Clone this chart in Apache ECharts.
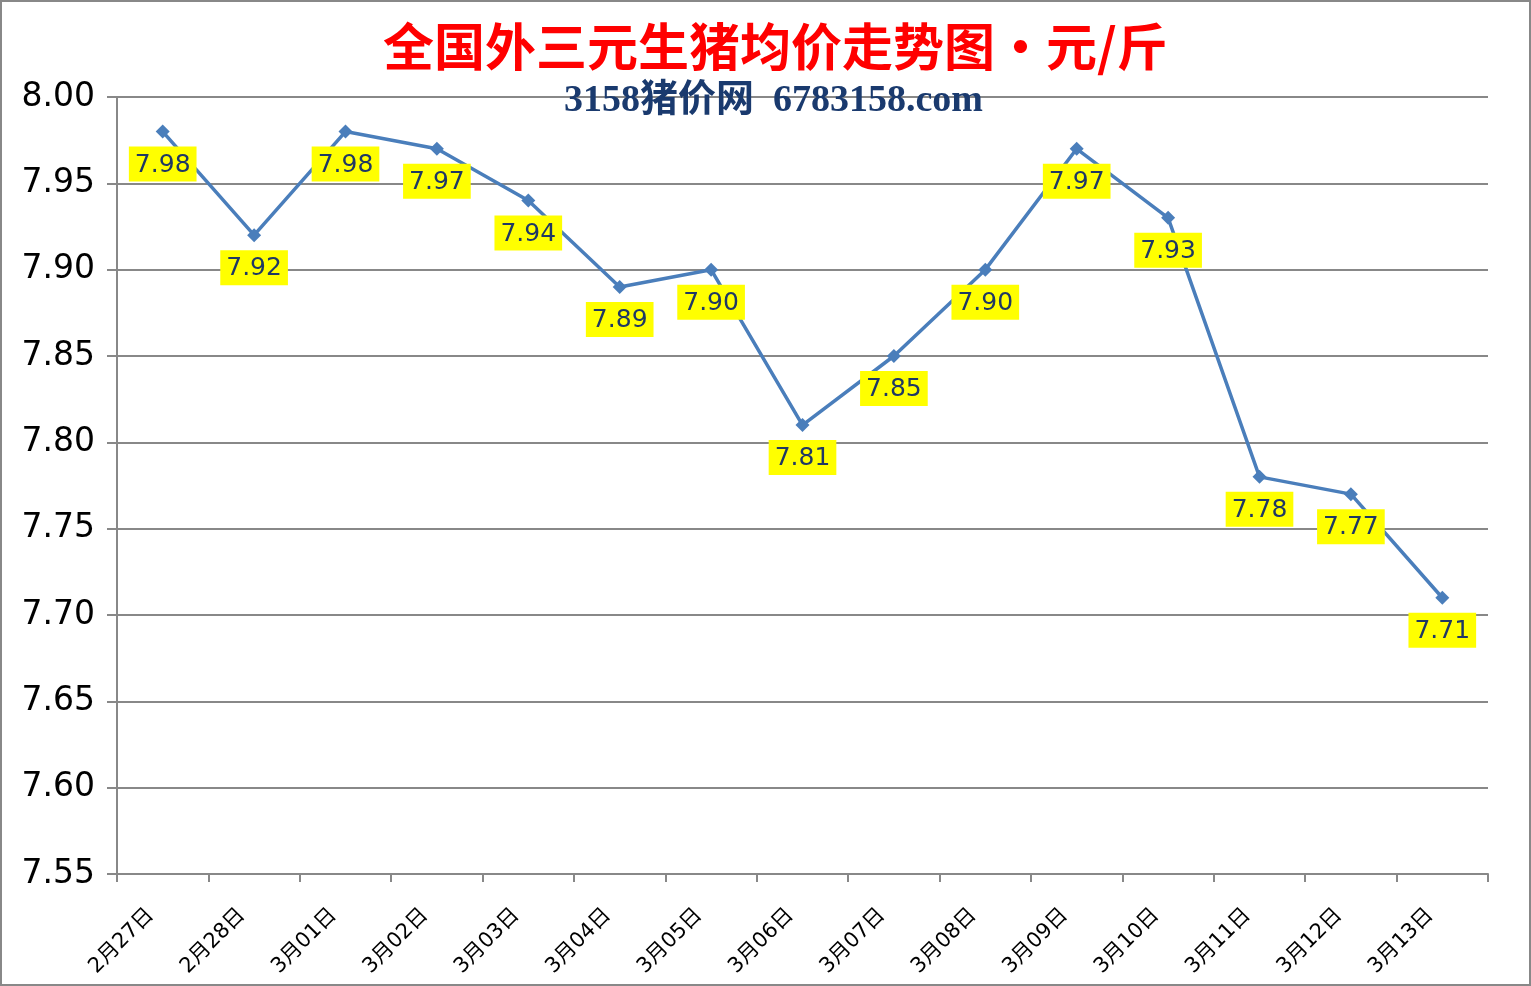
<!DOCTYPE html>
<html><head><meta charset="utf-8">
<script src="https://cdn.jsdelivr.net/npm/echarts@6/dist/echarts.min.js"></script>
<style>html,body{margin:0;padding:0;background:#fff}#c{width:1531px;height:986px}</style>
</head><body><div id="c"></div>
<script>
var categories = ['2月27日','2月28日','3月01日','3月02日','3月03日','3月04日','3月05日','3月06日','3月07日','3月08日','3月09日','3月10日','3月11日','3月12日','3月13日'];
var prices = [7.98, 7.92, 7.98, 7.97, 7.94, 7.89, 7.90, 7.81, 7.85, 7.90, 7.97, 7.93, 7.78, 7.77, 7.71];
var yMin = 7.55, yMax = 8.00, yStep = 0.05;
var titleText = '全国外三元生猪均价走势图・元/斤';
var subText = '3158猪价网  6783158.com';

var chart = echarts.init(document.getElementById('c'));
chart.setOption({
  animation: false,
  backgroundColor: '#fff',
  graphic: [{type:'rect', shape:{x:1,y:1,width:1529,height:984}, style:{fill:'none', stroke:'#888', lineWidth:2}, z:100}],
  title: [{
    text: titleText, left: 378, top: 16,
    textStyle: {color:'#ff0000', fontSize:51, fontWeight:'bold', fontFamily:'Noto Sans CJK SC'}
  },{
    text: subText, left: 559, top: 77,
    textStyle: {color:'#1a3a6e', fontSize:38, fontWeight:'bold', fontFamily:'Liberation Serif, Noto Sans CJK SC'}
  }],
  grid: {left:117, right:43, top:97, bottom:112, containLabel:false},
  xAxis: {
    type:'category', data:categories, boundaryGap:true,
    axisLine:{lineStyle:{color:'#888', width:2}},
    axisTick:{show:true, length:8, lineStyle:{color:'#888', width:2}},
    axisLabel:{rotate:45, color:'#000', fontSize:21, fontFamily:'DejaVu Sans, Noto Sans CJK SC', margin:26, interval:0, padding:[0,17,0,0]}
  },
  yAxis: {
    type:'value', min:yMin, max:yMax, interval:yStep,
    axisLine:{show:true, lineStyle:{color:'#888', width:2}},
    axisTick:{show:true, length:10, lineStyle:{color:'#888', width:2}},
    splitLine:{lineStyle:{color:'#888', width:2}},
    axisLabel:{color:'#000', fontSize:33, fontFamily:'DejaVu Sans', margin:22, formatter:function(v){return v.toFixed(2);}}
  },
  series: [{
    type:'line', data:prices,
    lineStyle:{color:'#4a7ebb', width:3.5},
    itemStyle:{color:'#4a7ebb'},
    symbol:'diamond', symbolSize:14, showAllSymbol:true,
    label:{show:true, position:'bottom', distance:8, formatter:function(p){return p.value.toFixed(2);},
      color:'#1f3864', fontSize:25, fontFamily:'DejaVu Sans', backgroundColor:'#ffff00', padding:[6,6,4,6]}
  }]
});
</script></body></html>
